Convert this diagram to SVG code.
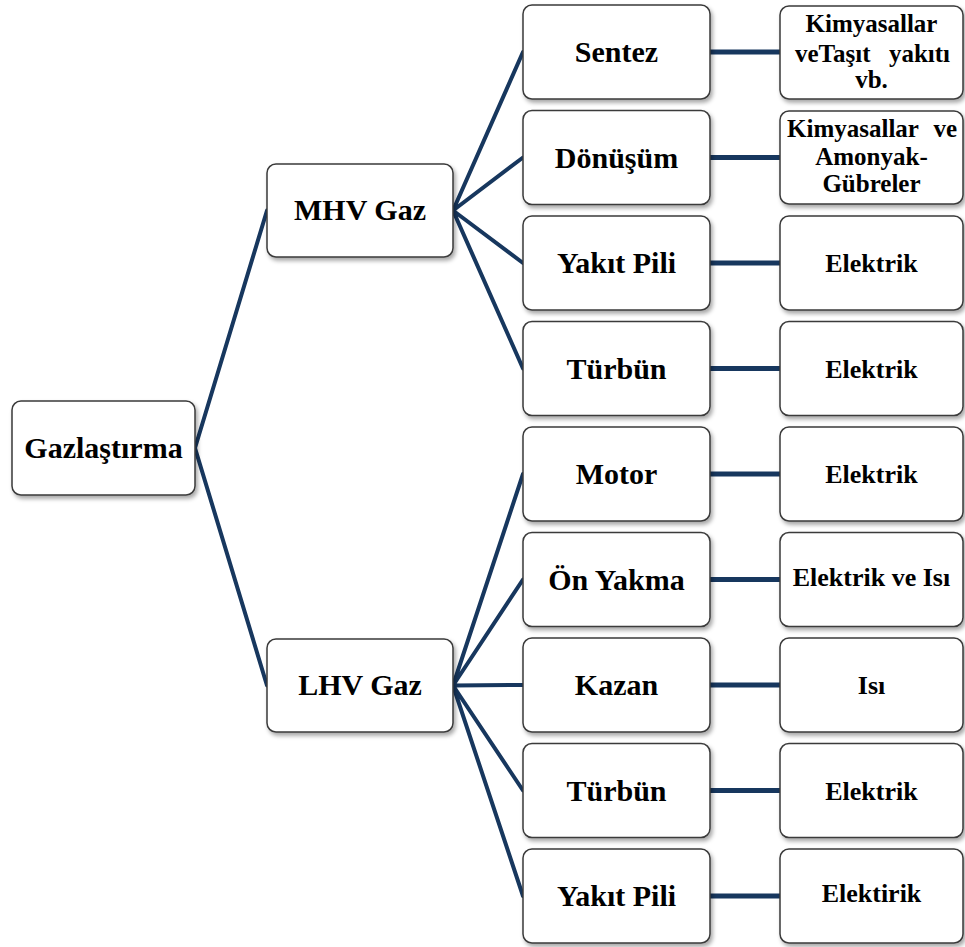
<svg xmlns="http://www.w3.org/2000/svg" width="965" height="947" viewBox="0 0 965 947">
  <defs>
    <filter id="shadow" x="-10%" y="-10%" width="125%" height="130%">
      <feDropShadow dx="2" dy="3" stdDeviation="2" flood-color="#000" flood-opacity="0.35"/>
    </filter>
  </defs>
  <style>
    .box { fill: #ffffff; stroke: #3a3a3a; stroke-width: 1.5; filter: url(#shadow); }
    .lbl { font-family: "Liberation Serif", "Times New Roman", serif; font-weight: bold; fill: #000; text-anchor: middle; }
    .big { font-size: 30px; }
    .sm { font-size: 26px; }
    .ml { font-size: 25px; }
    .link { stroke: #17375e; stroke-width: 4; fill: none; stroke-linecap: round; }
    .hlink { stroke: #17375e; stroke-width: 5; fill: none; }
  </style>

  <rect width="965" height="947" fill="#ffffff"/>

  <!-- connectors -->
  <g id="connectors">
    <path class="link" d="M195 448 L267 210.5 M195 448 L267 685.5"/>
    <path class="link" d="M453 210.5 L523 52 M453 210.5 L523 157.5 M453 210.5 L523 263 M453 210.5 L523 368.5"/>
    <path class="link" d="M453 685.5 L523 474 M453 685.5 L523 579.5 M453 685.5 L523 685 M453 685.5 L523 790.5 M453 685.5 L523 896"/>
    <path class="hlink" d="M710 52 H780 M710 157.5 H780 M710 263 H780 M710 368.5 H780 M710 474 H780 M710 579.5 H780 M710 685 H780 M710 790.5 H780 M710 896 H780"/>
  </g>

  <!-- root -->
  <g id="gazlastirma">
    <rect class="box" x="12" y="401" width="183" height="94" rx="9"/>
    <text class="lbl big" x="103.5" y="458">Gazlaştırma</text>
  </g>

  <!-- gas grades -->
  <g id="mhv-gaz">
    <rect class="box" x="267" y="164" width="186" height="93" rx="9"/>
    <text class="lbl big" x="360" y="220">MHV Gaz</text>
  </g>
  <g id="lhv-gaz">
    <rect class="box" x="267" y="639" width="186" height="93" rx="9"/>
    <text class="lbl big" x="360" y="695">LHV Gaz</text>
  </g>

  <!-- processes -->
  <g id="sentez">
    <rect class="box" x="523" y="5" width="187" height="94" rx="9"/>
    <text class="lbl big" x="616.5" y="62">Sentez</text>
  </g>
  <g id="donusum">
    <rect class="box" x="523" y="110.5" width="187" height="94" rx="9"/>
    <text class="lbl big" x="616.5" y="167.5">Dönüşüm</text>
  </g>
  <g id="yakit-pili-mhv">
    <rect class="box" x="523" y="216" width="187" height="94" rx="9"/>
    <text class="lbl big" x="616.5" y="273">Yakıt Pili</text>
  </g>
  <g id="turbun-mhv">
    <rect class="box" x="523" y="321.5" width="187" height="94" rx="9"/>
    <text class="lbl big" x="616.5" y="378.5">Türbün</text>
  </g>
  <g id="motor">
    <rect class="box" x="523" y="427" width="187" height="94" rx="9"/>
    <text class="lbl big" x="616.5" y="484">Motor</text>
  </g>
  <g id="on-yakma">
    <rect class="box" x="523" y="532.5" width="187" height="94" rx="9"/>
    <text class="lbl big" x="616.5" y="589.5">Ön Yakma</text>
  </g>
  <g id="kazan">
    <rect class="box" x="523" y="638" width="187" height="94" rx="9"/>
    <text class="lbl big" x="616.5" y="695">Kazan</text>
  </g>
  <g id="turbun-lhv">
    <rect class="box" x="523" y="743.5" width="187" height="94" rx="9"/>
    <text class="lbl big" x="616.5" y="800.5">Türbün</text>
  </g>
  <g id="yakit-pili-lhv">
    <rect class="box" x="523" y="849" width="187" height="94" rx="9"/>
    <text class="lbl big" x="616.5" y="906">Yakıt Pili</text>
  </g>

  <!-- products -->
  <g id="kimyasallar-tasit">
    <rect class="box" x="780" y="6" width="183" height="93" rx="9"/>
    <text class="lbl ml" x="871.5" y="32">Kimyasallar</text>
    <text class="lbl ml" x="795" y="62" text-anchor="start" style="text-anchor:start">veTaşıt</text>
    <text class="lbl ml" x="950" y="62" style="text-anchor:end">yakıtı</text>
    <text class="lbl ml" x="871.5" y="88">vb.</text>
  </g>
  <g id="kimyasallar-amonyak">
    <rect class="box" x="780" y="111" width="183" height="93" rx="9"/>
    <text class="lbl ml" x="787" y="137" style="text-anchor:start">Kimyasallar</text>
    <text class="lbl ml" x="957" y="137" style="text-anchor:end">ve</text>
    <text class="lbl ml" x="871.5" y="165">Amonyak-</text>
    <text class="lbl ml" x="871.5" y="192">Gübreler</text>
  </g>
  <g id="elektrik-1">
    <rect class="box" x="780" y="216" width="183" height="94" rx="9"/>
    <text class="lbl sm" x="871.5" y="272">Elektrik</text>
  </g>
  <g id="elektrik-2">
    <rect class="box" x="780" y="321.5" width="183" height="94" rx="9"/>
    <text class="lbl sm" x="871.5" y="377.5">Elektrik</text>
  </g>
  <g id="elektrik-3">
    <rect class="box" x="780" y="427" width="183" height="94" rx="9"/>
    <text class="lbl sm" x="871.5" y="483">Elektrik</text>
  </g>
  <g id="elektrik-isi">
    <rect class="box" x="780" y="532.5" width="183" height="94" rx="9"/>
    <text class="lbl sm" x="871.5" y="585.5">Elektrik ve Isı</text>
  </g>
  <g id="isi">
    <rect class="box" x="780" y="638" width="183" height="94" rx="9"/>
    <text class="lbl sm" x="871.5" y="694">Isı</text>
  </g>
  <g id="elektrik-4">
    <rect class="box" x="780" y="743.5" width="183" height="94" rx="9"/>
    <text class="lbl sm" x="871.5" y="799.5">Elektrik</text>
  </g>
  <g id="elektirik">
    <rect class="box" x="780" y="849" width="183" height="94" rx="9"/>
    <text class="lbl sm" x="871.5" y="902">Elektirik</text>
  </g>
</svg>
